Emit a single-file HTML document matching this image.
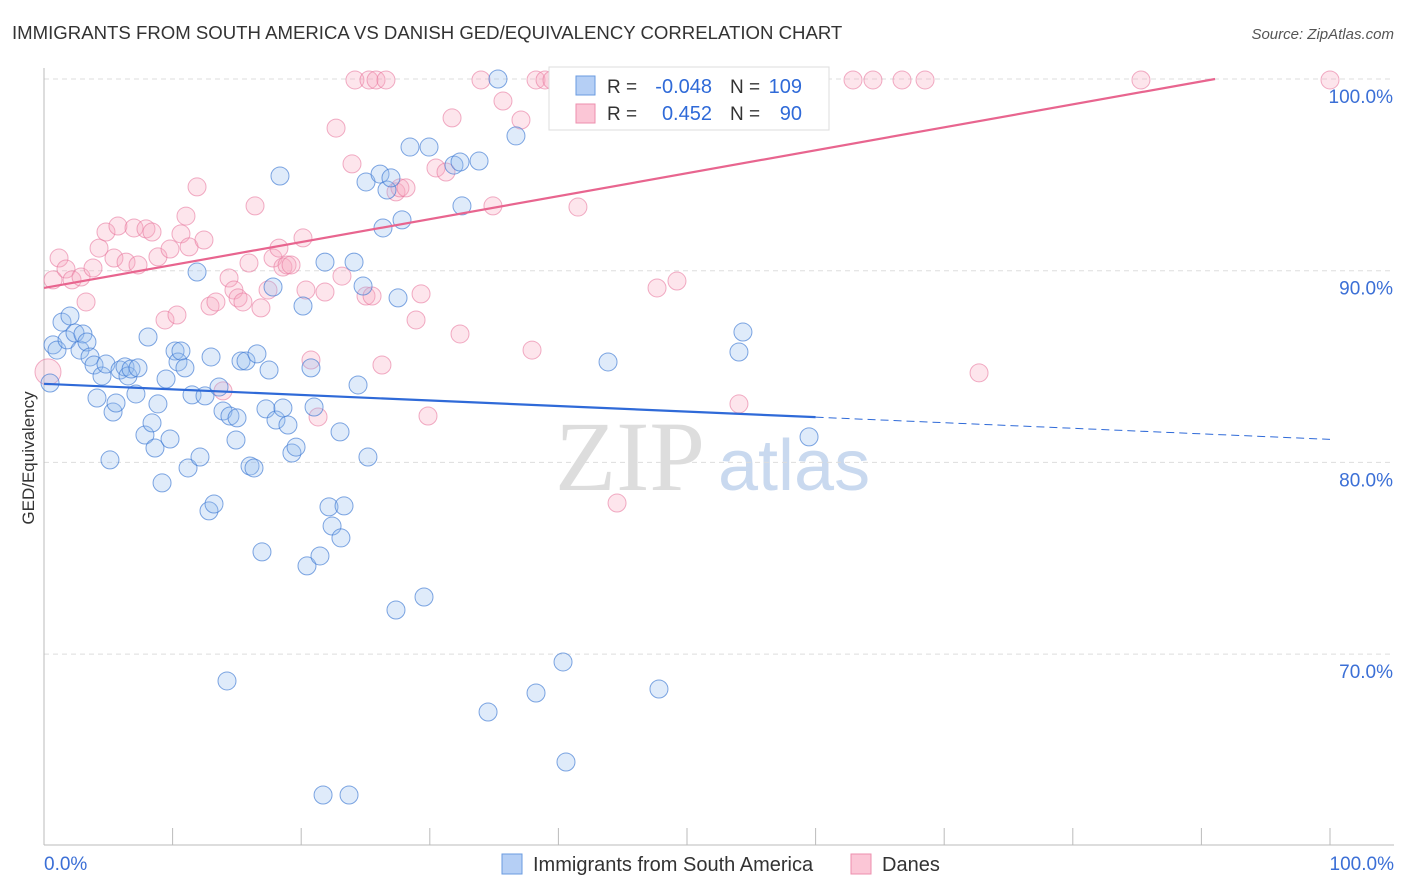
<!DOCTYPE html>
<html><head><meta charset="utf-8"><style>
body{margin:0;background:#fff;font-family:"Liberation Sans",sans-serif}
#wrap{position:relative;width:1406px;height:892px;overflow:hidden}
</style></head><body>
<div id="wrap">
<svg id="svg" width="1406" height="892" xmlns="http://www.w3.org/2000/svg">
<text x="12" y="39" font-size="18.6" fill="#333">IMMIGRANTS FROM SOUTH AMERICA VS DANISH GED/EQUIVALENCY CORRELATION CHART</text>
<text x="1394" y="39" font-size="15" fill="#555" font-style="italic" text-anchor="end">Source: ZipAtlas.com</text>
<text x="34" y="458" font-size="17" fill="#333" transform="rotate(-90 34 458)" text-anchor="middle">GED/Equivalency</text>
<text x="555" y="490" font-size="100" fill="#ddd" font-family="Liberation Serif,serif">ZIP</text>
<text x="718" y="490" font-size="72" fill="#c9d9ef">atlas</text>
<g id="grid"></g><g id="pts"></g><g id="trend"></g>
<g>
<rect x="549" y="67" width="280" height="63" fill="#fff" stroke="#ddd"/>
<rect x="576" y="76" width="19" height="19" fill="#b5cff5" stroke="#6a9be0"/>
<rect x="576" y="104" width="19" height="19" fill="#fbc6d6" stroke="#ec8fae"/>
<text x="607" y="93" font-size="19" fill="#333">R =</text>
<text x="712" y="93" font-size="20" fill="#2f6ad8" text-anchor="end">-0.048</text>
<text x="730" y="93" font-size="19" fill="#333">N =</text>
<text x="802" y="93" font-size="20" fill="#2f6ad8" text-anchor="end">109</text>
<text x="607" y="120" font-size="19" fill="#333">R =</text>
<text x="712" y="120" font-size="20" fill="#2f6ad8" text-anchor="end">0.452</text>
<text x="730" y="120" font-size="19" fill="#333">N =</text>
<text x="802" y="120" font-size="20" fill="#2f6ad8" text-anchor="end">90</text>
</g>
<g>
<rect x="502" y="854" width="20" height="20" fill="#b5cff5" stroke="#6a9be0"/>
<text x="533" y="871" font-size="20" fill="#333">Immigrants from South America</text>
<rect x="851" y="854" width="20" height="20" fill="#fbc6d6" stroke="#ec8fae"/>
<text x="882" y="871" font-size="20" fill="#333">Danes</text>
</g>
</svg>
</div>
<script>
const blueX=[0.47,0.70,1.01,1.40,1.79,2.02,2.41,2.80,3.03,3.34,3.58,3.89,4.12,4.51,4.82,5.13,5.37,5.60,5.91,6.30,6.53,6.77,7.15,7.31,7.85,8.09,8.40,8.63,8.86,9.18,9.49,9.80,10.19,10.42,10.65,10.96,11.20,11.51,11.90,12.13,12.52,12.83,12.99,13.22,13.61,13.92,14.23,14.46,14.93,15.01,15.32,15.71,16.02,16.33,16.56,16.95,17.26,17.50,17.81,18.04,18.35,18.58,18.97,19.28,19.60,20.14,20.45,20.76,21.00,21.46,21.70,21.85,22.16,22.40,23.02,23.09,23.33,23.72,24.11,24.42,24.81,25.04,25.19,26.13,26.36,26.67,26.98,27.37,27.53,27.84,28.46,29.55,29.94,31.88,32.35,32.50,33.83,34.53,35.30,36.70,38.26,40.36,40.59,43.86,47.82,54.04,54.35,59.49];
const blueY=[84.14,86.13,85.86,87.32,86.39,87.64,86.75,85.86,86.70,86.28,85.50,85.08,83.36,84.51,85.13,80.13,82.63,83.10,84.82,84.98,84.51,84.87,83.57,84.93,81.43,86.54,82.06,80.75,83.05,78.93,84.35,81.22,85.81,85.24,85.81,84.93,79.71,83.52,89.93,80.28,83.47,77.47,85.50,77.83,83.93,82.68,68.60,82.42,81.17,82.32,85.29,85.29,79.81,79.71,85.66,75.33,82.79,84.82,89.15,82.21,94.94,82.84,81.95,80.49,80.80,88.16,74.60,84.93,82.89,75.12,62.65,90.45,77.68,76.68,81.59,76.06,77.73,62.65,90.45,84.04,89.20,94.63,80.28,95.04,92.23,94.21,94.84,72.30,88.58,92.65,96.45,72.98,96.45,95.51,95.67,93.38,95.72,66.98,100,97.03,67.97,69.59,64.37,85.24,68.18,85.76,86.80,81.33];
const pinkX=[0.31,0.70,1.17,1.71,2.18,2.88,3.27,3.81,4.28,4.82,5.44,5.75,6.38,7.00,7.31,7.93,8.40,8.86,9.41,9.80,10.34,10.65,11.04,11.28,11.90,12.44,12.91,13.37,13.92,14.39,14.77,15.09,15.47,15.94,16.41,16.87,17.42,17.81,18.27,18.58,18.90,19.21,20.14,20.37,20.76,21.31,21.85,22.71,23.17,23.95,24.18,25.04,25.27,25.51,25.82,26.28,26.59,27.37,27.68,28.15,28.93,29.32,29.86,30.48,31.26,31.73,32.35,33.98,34.91,35.69,37.09,37.95,38.26,38.96,39.50,41.52,44.56,47.67,49.22,52.33,54.04,62.91,64.46,66.72,68.51,72.71,85.30,100];
const pinkY=[84.72,89.52,90.66,90.09,89.52,89.67,88.37,90.14,91.18,92.02,90.66,92.33,90.45,92.23,90.30,92.18,92.02,90.72,87.43,91.13,87.69,91.92,92.85,91.24,94.37,91.60,88.16,88.37,83.73,89.62,88.99,88.58,88.37,90.40,93.38,88.06,88.99,90.66,91.18,90.19,90.30,90.30,91.71,88.99,85.34,82.37,88.89,97.44,89.72,95.57,99.95,88.68,99.95,88.68,99.95,85.08,99.95,94.11,94.32,94.32,87.43,88.79,82.42,95.36,95.15,97.97,86.70,99.95,93.38,98.85,97.86,85.86,99.95,99.95,99.95,93.32,77.88,89.10,89.46,99.95,83.05,99.95,99.95,99.95,99.95,84.67,99.95,99.95];
const yTicks=[100,90,80,70];
const yTickLabels=["100.0%","90.0%","80.0%","70.0%"];
const blueTrend=[84.1,-0.029]; // intercept, slope
const pinkTrend=[89.1,0.1197];
const NS="http://www.w3.org/2000/svg";
const X=v=>44+v*12.86, Y=v=>79+(100-v)*19.17;
function mk(t,a,p){const e=document.createElementNS(NS,t);for(const k in a)e.setAttribute(k,a[k]);p.appendChild(e);return e;}
const grid=document.getElementById('grid');
yTicks.forEach((t,i)=>{
 const l=mk('line',{x1:44,x2:1394,y1:Y(t),y2:Y(t),stroke:'#ddd','stroke-dasharray':'5,4'},grid);
 
 
 const tx=mk('text',{x:1393,y:Y(t)+24,'font-size':19,fill:'#3b6fd6','text-anchor':'end'},grid);
 tx.textContent=yTickLabels[i];
 
 
});
mk('line',{x1:44,x2:44,y1:68,y2:845,stroke:'#bbb'},grid);
mk('line',{x1:44,x2:1394,y1:845,y2:845,stroke:'#bbb'},grid);
for(let i=0;i<=10;i++){const t=mk('line',{x1:X(i*10),x2:X(i*10),y1:828,y2:845,stroke:'#bbb'},grid);
 
 }
const xl0=mk('text',{x:44,y:870,'font-size':19,fill:'#3b6fd6'},grid);xl0.textContent='0.0%';


const xl1=mk('text',{x:1394,y:870,'font-size':19,fill:'#3b6fd6','text-anchor':'end'},grid);xl1.textContent='100.0%';


const pts=document.getElementById('pts');
pinkX.forEach((x,i)=>{const c=mk('circle',{cx:X(x),cy:Y(pinkY[i]),r:i==0?13:9,fill:'rgba(247,168,193,0.3)',stroke:'rgba(232,120,158,0.6)','stroke-width':1},pts);
 
 });
blueX.forEach((x,i)=>{const c=mk('circle',{cx:X(x),cy:Y(blueY[i]),r:9,fill:'rgba(150,190,240,0.3)',stroke:'rgba(60,120,210,0.65)','stroke-width':1},pts);
 
 });
const tr=document.getElementById('trend');
const bl=mk('line',{x1:X(0),y1:Y(blueTrend[0]),x2:X(60),y2:Y(blueTrend[0]+60*blueTrend[1]),stroke:'#2f6ad8','stroke-width':2.2},tr);


const bd=mk('line',{x1:X(60),y1:Y(blueTrend[0]+60*blueTrend[1]),x2:X(100),y2:Y(blueTrend[0]+100*blueTrend[1]),stroke:'#2f6ad8','stroke-width':1,'stroke-dasharray':'8,5'},tr);


const xEnd=(100-pinkTrend[0])/pinkTrend[1];
const pl=mk('line',{x1:X(0),y1:Y(pinkTrend[0]),x2:X(xEnd),y2:Y(100),stroke:'#e8658f','stroke-width':2.2},tr);


</script>
</body></html>
